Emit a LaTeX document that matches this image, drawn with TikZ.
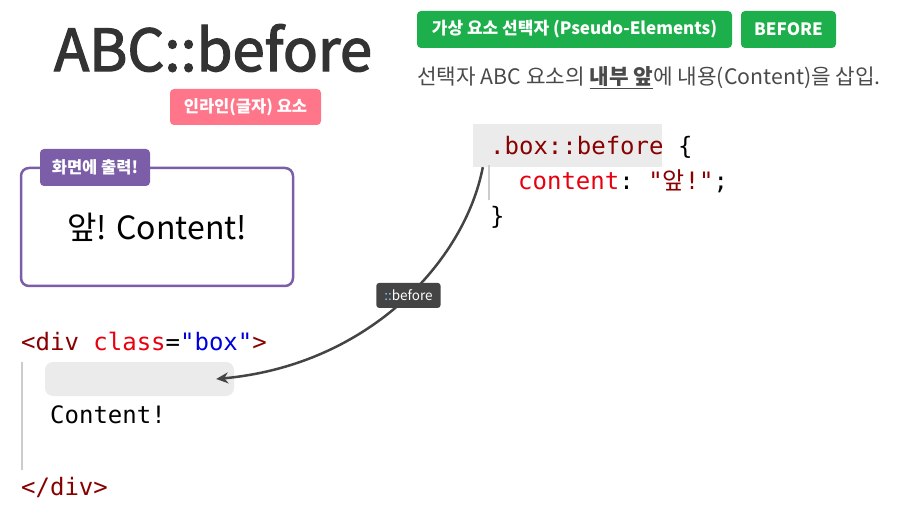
\documentclass[tikz,border=0pt]{standalone}
\usepackage{fontspec}
\setmainfont{Noto Sans CJK KR}
\newfontfamily\codefont{DejaVu Sans Mono}
\newfontfamily\krfont{Noto Sans CJK KR}
\usetikzlibrary{arrows.meta, positioning}
\definecolor{titlegray}{HTML}{333333}
\definecolor{descgray}{HTML}{4A4A4A}
\definecolor{badgegreen}{HTML}{1DAF4B}
\definecolor{badgepink}{HTML}{FF7589}
\definecolor{boxpurple}{HTML}{7B5EA7}
\definecolor{codemaroon}{HTML}{880000}
\definecolor{codered}{HTML}{E8000F}
\definecolor{codeblue}{HTML}{0000DD}
\definecolor{hlgray}{HTML}{EBEBEB}
\definecolor{bargray}{HTML}{CCCCCC}
\definecolor{arrowgray}{HTML}{444444}
\definecolor{tagblue}{HTML}{7CC4FF}
% slightly heavier title strokes
\newcommand{\heavytext}[1]{\special{pdf:code 2 Tr 1.3 w}#1\special{pdf:code 0 Tr}}

\begin{document}
\begin{tikzpicture}[
    x=1pt, y=-1pt,
    badge/.style={rounded corners=4pt, inner sep=0pt, text=white,
        font=\fontsize{16.5}{18}\selectfont\bfseries},
    code/.style={anchor=base west, inner sep=0pt,
        font=\fontsize{24}{28}\selectfont\codefont},
]
    \useasboundingbox (0,0) rectangle (915,526);

    % title and badges
    \node[text=titlegray, font=\fontsize{58}{64}\selectfont] (title) at (213,48) {\heavytext{ABC::before}};
    \node[badge, fill=badgepink, minimum width=151pt, minimum height=36pt] (inline) at (245.5,107) {인라인(글자) 요소};
    \node[badge, fill=badgegreen, minimum width=315pt, minimum height=37pt,
        font=\fontsize{17}{19}\selectfont\bfseries] (pseudo) at (574.5,29.5) {가상 요소 선택자 (Pseudo-Elements)};
    \node[badge, fill=badgegreen, minimum width=95pt, minimum height=37pt,
        font=\fontsize{17}{19}\selectfont\bfseries] (kind) at (788.5,29.5) {BEFORE};
    \node[anchor=base west, inner sep=0pt, text=descgray, font=\fontsize{21.3}{24}\selectfont]
        (desc) at (417,85) {선택자 ABC 요소의 \underline{\textbf{내부 앞}}에 내용(Content)을 삽입.};

    % rendered result
    \node[draw=boxpurple, line width=2.5pt, rounded corners=8pt, minimum width=272pt, minimum height=118pt,
        font=\fontsize{32}{36}\selectfont] (screen) at (157,227) {앞! Content!};
    \node[badge, fill=boxpurple, minimum width=110pt, minimum height=37pt] (screentab) at (95,167.5) {화면에 출력!};

    % css rule
    \node[fill=hlgray, minimum width=189pt, minimum height=43pt, inner sep=0pt] (hl) at (567.5,145.5) {};
    \node[code] (sel) at (490,155) {\color{codemaroon}.box::before\color{black}\ \{};
    \node[code] (decl) at (518,190) {\color{codered}content\color{black}:\ \color{codemaroon}"{\krfont 앞}!"\color{black};};
    \node[code] (close) at (490,225) {\}};
    \draw[bargray, line width=2pt] (489,165) -- (489,200);

    % html markup
    \node[code] (open) at (21,351) {\color{codemaroon}<div\ \color{codered}class\color{black}=\color{codeblue}"box"\color{codemaroon}>};
    \node[fill=hlgray, rounded corners=8pt, minimum width=189pt, minimum height=34pt, inner sep=0pt] (slot) at (139.5,379) {};
    \node[code] (txt) at (50,423) {Content!};
    \node[code, text=codemaroon] (end) at (21,495) {</div>};
    \draw[bargray, line width=2pt] (22,362) -- (22,470);

    \draw[arrowgray, line width=2.5pt, -{Stealth[length=12pt, width=11pt]}]
        ([xshift=10pt]hl.south west) .. controls (465,260) and (370,365) .. ([xshift=-18pt]slot.east)
        node[pos=0.47, fill=arrowgray, rounded corners=3pt, inner xsep=8pt, inner ysep=7pt,
            font=\fontsize{13.5}{15}\selectfont] (tag) {\color{tagblue}::\color{white}before};
\end{tikzpicture}
\end{document}
